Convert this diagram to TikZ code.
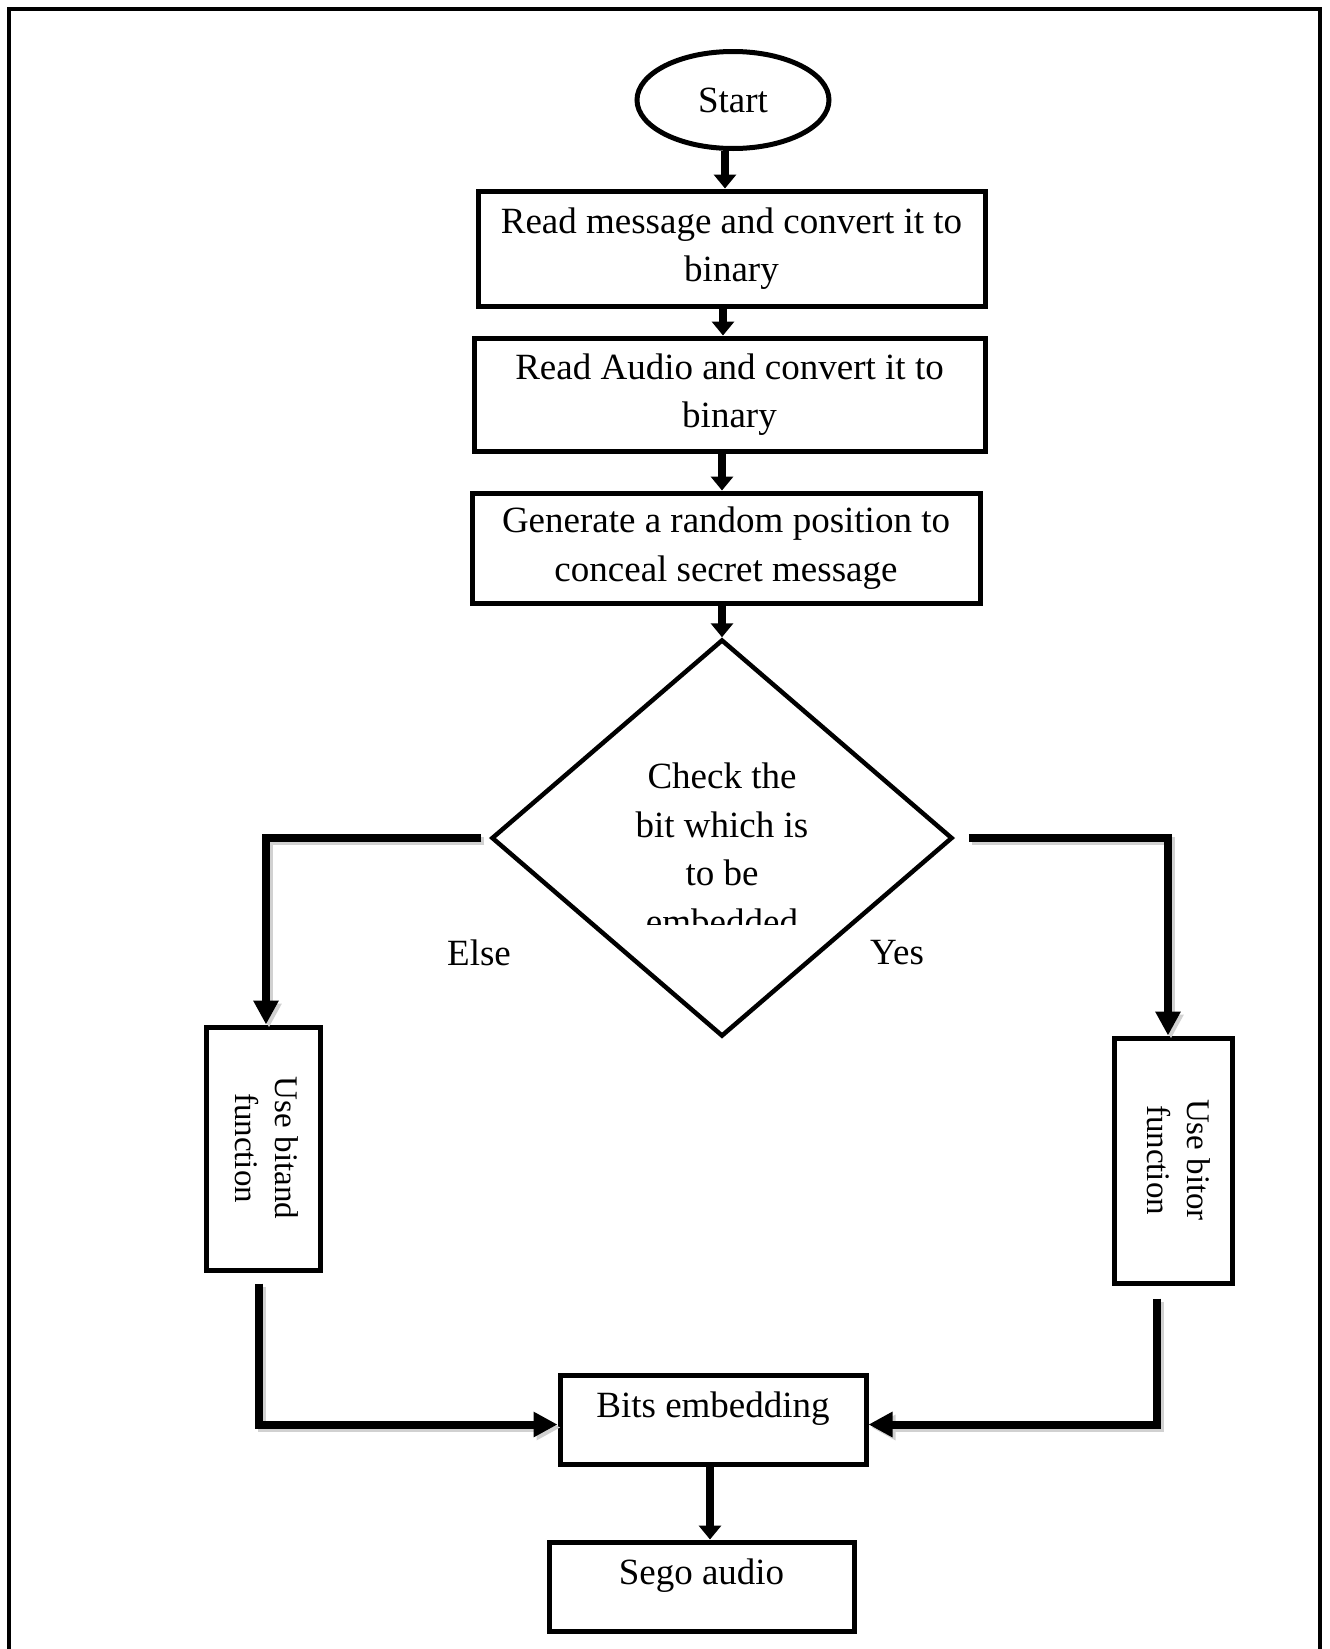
\documentclass[tikz,border=0pt]{standalone}
\usepackage{fontspec}
\setmainfont{Liberation Serif}
\usetikzlibrary{arrows.meta,shapes.geometric,calc}

\begin{document}
\begin{tikzpicture}[x=1pt,y=-1pt,
  every node/.style={font=\fontsize{37}{48.5}\selectfont, inner sep=0pt},
  box/.style={draw, line width=5pt, rectangle},
  flow/.style={line width=8pt, -{Triangle[width=22pt 0 0,length=14pt 0 0]}},
  branch/.style={line width=8pt, -{Triangle[width=24pt 0 0,length=24pt 0 0]}},
  shade/.style={branch, draw=black!18},
  sidetext/.style={rotate=-90, align=center, font=\fontsize{33}{40}\selectfont}
]
\useasboundingbox (0,0) rectangle (1330,1649);

% outer frame (open at the bottom)
\draw[line width=4.5pt] (9,1670) -- (9,9) -- (1320,9) -- (1320,1670);

% process nodes
\node[draw, ellipse, line width=5pt, minimum width=192, minimum height=97] (start) at (733,100) {Start};
\node[box, minimum width=507, minimum height=115, align=center] (box1) at (731.5,248.5)
  {Read message and convert it to\\binary};
\node[box, minimum width=511, minimum height=113, align=center] (box2) at (729.5,394.5)
  {Read Audio and convert it to\\binary};
\node[box, minimum width=508, minimum height=110, align=center] (box3) at (726,548)
  {Generate a random position to\\conceal secret message};

\node[draw, diamond, line width=4.5pt, minimum width=461, minimum height=397] (dia) at (722,838) {};
\begin{scope}
  \clip (480,700) rectangle (960,924);
  \node[align=center] (diaT) at (722,849) {Check the\\bit which is\\to be\\embedded};
\end{scope}

\node (else) at (479,953) {Else};
\node (yes) at (897,953) {Yes};

\node[box, minimum width=114, minimum height=243] (bitand) at (263,1148.5) {};
\node[sidetext] (bitandT) at (266.5,1148) {Use bitand\\function};
\node[box, minimum width=118, minimum height=245] (bitor) at (1173,1160.5) {};
\node[sidetext] (bitorT) at (1179,1160) {Use bitor\\function};

\node[box, minimum width=306, minimum height=89] (bits) at (713,1419.5) {};
\node (bitsT) at (713,1409) {Bits embedding};
\node[box, minimum width=305, minimum height=89] (sego) at (701.5,1586.5) {};
\node (segoT) at (701.5,1576) {Sego audio};

% main vertical flow
\draw[flow] (start.south -| dia.north) ++(3,0) -- ($(box1.north -| dia.north)+(3,0)$);
\draw[flow] (box1.south -| dia.north) ++(1,0) -- ($(box2.north -| dia.north)+(1,0)$);
\draw[flow] (box2.south -| dia.north) -- (box3.north -| dia.north);
\draw[flow] (box3.south -| dia.north) -- (dia.north);

% soft shadows of the branch connectors
\begin{scope}[transform canvas={xshift=3pt,yshift=-3pt}]
  \draw[shade] ([xshift=-8]dia.west) -| ([xshift=3]bitand.north);
  \draw[shade] ([xshift=14]dia.east) -| ([xshift=-5]bitor.north);
  \draw[shade] ([xshift=-4,yshift=-11]bitand.south) |- ([yshift=-5]bits.west);
  \draw[shade] ([xshift=-16,yshift=-13]bitor.south) |- ([yshift=-5]bits.east);
\end{scope}

% branch connectors
\draw[branch] ([xshift=-8]dia.west) -| ([xshift=3]bitand.north);
\draw[branch] ([xshift=14]dia.east) -| ([xshift=-5]bitor.north);
\draw[branch] ([xshift=-4,yshift=-11]bitand.south) |- ([yshift=-5]bits.west);
\draw[branch] ([xshift=-16,yshift=-13]bitor.south) |- ([yshift=-5]bits.east);

% output
\draw[flow] ([xshift=-3]bits.south) -- ([xshift=-3]bits.south |- sego.north);
\end{tikzpicture}
\end{document}
